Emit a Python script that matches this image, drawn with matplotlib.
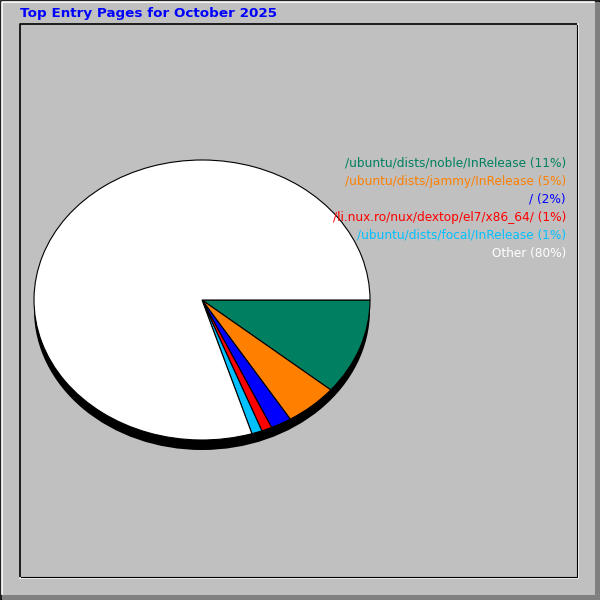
import matplotlib
matplotlib.use('Agg')
import matplotlib.pyplot as plt
from matplotlib.patches import Ellipse, Rectangle

# data
title = 'Top Entry Pages for October 2025'
pages = ['/ubuntu/dists/noble/InRelease',
         '/ubuntu/dists/jammy/InRelease',
         '/',
         '/li.nux.ro/nux/dextop/el7/x86_64/',
         '/ubuntu/dists/focal/InRelease']
percents = [11.1, 5.1, 2.0, 1.0, 1.0]
other = 100.0 - sum(percents)
labels = ['(11%)', '(5%)', '(2%)', '(1%)', '(1%)']
other_label = 'Other (80%)'

colors = ['#008060', '#ff8000', '#0000ff', '#ff0000', '#00c0ff']
bg = '#c0c0c0'

fig = plt.figure(figsize=(6, 6), dpi=100)
fig.patch.set_facecolor(bg)
ax = fig.add_axes([0, 0, 1, 1])
ax.set_xlim(0, 600)
ax.set_ylim(600, 0)
ax.axis('off')

# outer frame: black edge, white highlight, gray shadow
ax.add_patch(Rectangle((0.5, 0.5), 599, 599, fill=False, ec='black', lw=1.2))
ax.plot([1.5, 1.5, 594], [594, 1.5, 1.5], color='white', lw=1.2)
ax.add_patch(Rectangle((2, 595), 598, 5, fc='#808080', ec='none'))
ax.add_patch(Rectangle((595, 2), 5, 598, fc='#808080', ec='none'))

# inner panel, inset look
ax.plot([20, 20, 577], [577, 24, 24], color='black', lw=1.2)
ax.plot([20, 578, 578], [578, 578, 24], color='white', lw=1.2)
ax.plot([21, 577, 577], [577, 577, 25], color='black', lw=0.8)

ax.text(20, 14, title, color='#0000ff', fontsize=9.7, fontweight='bold',
        ha='left', va='center', family='DejaVu Sans')

# pie shadow
ax.add_patch(Ellipse((202, 310), 336, 280, fc='black', ec='none'))

# pie itself, squashed to an ellipse
pax = fig.add_axes([34 / 600, (600 - 440) / 600, 336 / 600, 280 / 600])
pax.patch.set_visible(False)
pax.pie(percents + [other], colors=colors + ['white'], startangle=0,
        counterclock=False, radius=1,
        wedgeprops=dict(edgecolor='black', linewidth=0.8))
pax.set_aspect('auto')
pax.set_xlim(-1, 1)
pax.set_ylim(-1, 1)
pax.axis('off')

# legend on the right, drawn over the pie
for i, (p, l) in enumerate(zip(pages, labels)):
    fig.text(566, 163 + 18 * i, p + ' ' + l, color=colors[i], fontsize=8.7,
             ha='right', va='center', transform=ax.transData)
fig.text(566, 163 + 18 * len(pages), other_label, color='white', fontsize=8.7,
         ha='right', va='center', transform=ax.transData)

fig.savefig('out.png', dpi=100, facecolor=bg)
